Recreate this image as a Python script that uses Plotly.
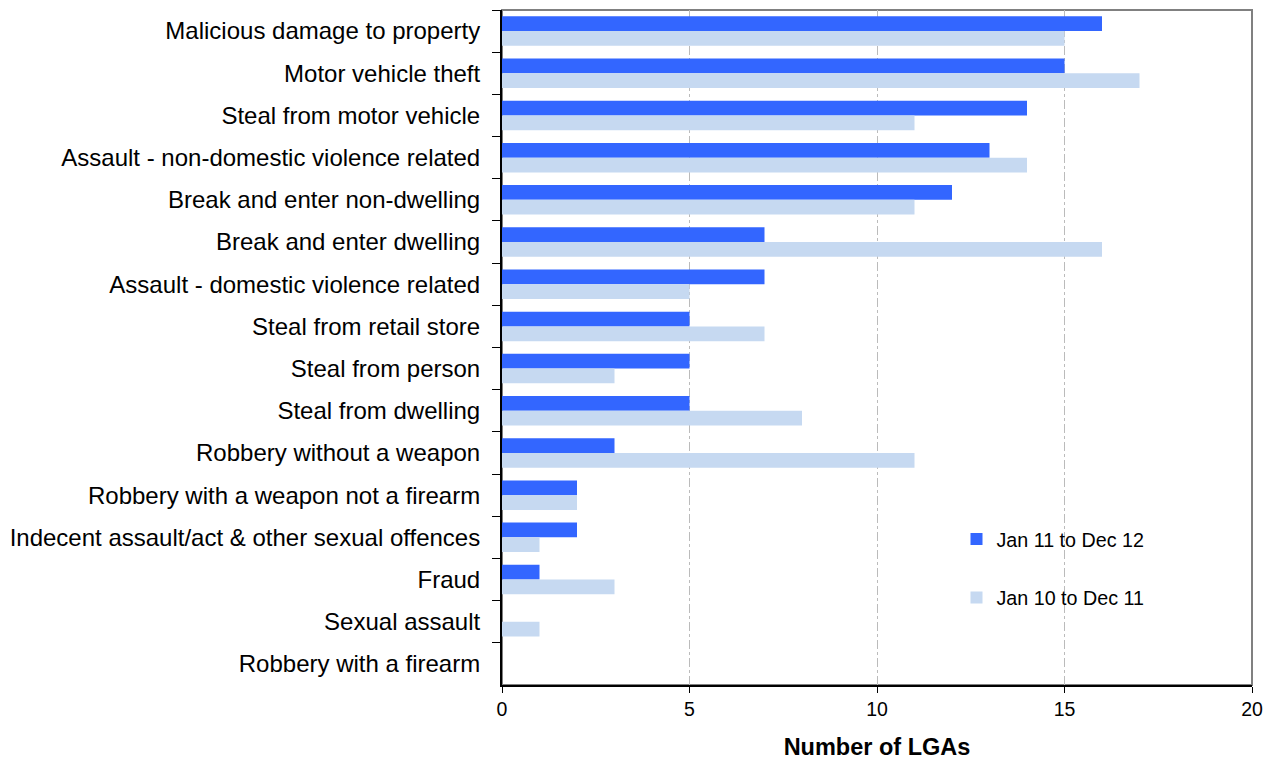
import plotly.graph_objects as go

categories = [
    "Malicious damage to property",
    "Motor vehicle theft",
    "Steal from motor vehicle",
    "Assault - non-domestic violence related",
    "Break and enter non-dwelling",
    "Break and enter dwelling",
    "Assault - domestic violence related",
    "Steal from retail store",
    "Steal from person",
    "Steal from dwelling",
    "Robbery without a weapon",
    "Robbery with a weapon not a firearm",
    "Indecent assault/act & other sexual offences",
    "Fraud",
    "Sexual assault",
    "Robbery with a firearm",
]
series_2012 = [16, 15, 14, 13, 12, 7, 7, 5, 5, 5, 3, 2, 2, 1, 0, 0]
series_2011 = [15, 17, 11, 14, 11, 16, 5, 7, 3, 8, 11, 2, 1, 3, 1, 0]
name_2012 = "Jan 11 to Dec 12"
name_2011 = "Jan 10 to Dec 11"
x_ticks = [0, 5, 10, 15, 20]

fig = go.Figure()
fig.add_trace(go.Bar(y=categories, x=series_2012, orientation="h", name=name_2012,
                     marker=dict(color="#3366FF", line=dict(width=0)), legendgroup="a"))
fig.add_trace(go.Bar(y=categories, x=series_2011, orientation="h", name=name_2011,
                     marker=dict(color="#C6D9F1", line=dict(width=0)), legendgroup="b"))

fig.update_layout(
    width=1266, height=752,
    margin=dict(l=492, r=22, t=2, b=75),
    paper_bgcolor="white", plot_bgcolor="white",
    font=dict(family="Liberation Sans, Arial, sans-serif", color="black", size=20),
    barmode="group", bargap=0.3, bargroupgap=0,
    legend=dict(x=0.606, y=0.245, xanchor="left", yanchor="top",
                traceorder="grouped", tracegroupgap=30,
                font=dict(size=19.7), bgcolor="rgba(0,0,0,0)", itemwidth=30),
    shapes=[dict(type="rect", xref="paper", yref="paper", x0=0, x1=1, y0=0, y1=1,
                 line=dict(color="#808080", width=2), layer="below")],
)
fig.update_xaxes(range=[0, 20], tickvals=x_ticks, ticks="outside", ticklen=6,
                 tickcolor="black", showline=True, linecolor="black", linewidth=2,
                 showgrid=True, gridcolor="#BBBBBB", griddash="dashdot", gridwidth=1,
                 zeroline=False, tickfont=dict(size=19.5),
                 title=dict(text="<b>Number of LGAs</b>", font=dict(size=23.5), standoff=19))
fig.update_yaxes(autorange="reversed", type="category", tickson="boundaries",
                 ticks="outside", ticklen=8, tickcolor="black",
                 showline=True, linecolor="black", linewidth=2, showgrid=False,
                 tickfont=dict(size=24), ticklabelstandoff=15)

fig.write_html("out.html")
